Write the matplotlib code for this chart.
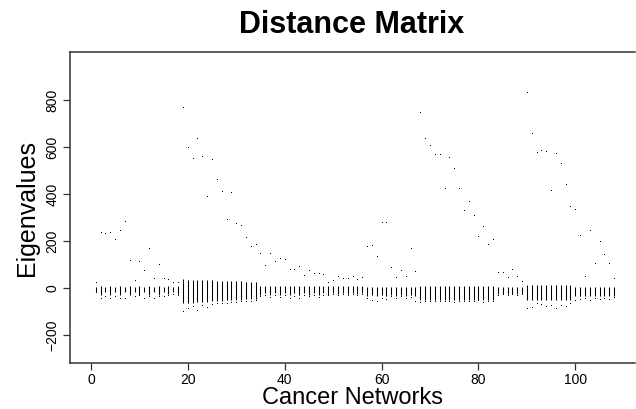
import matplotlib
matplotlib.use("Agg")
import matplotlib.pyplot as plt

# network index 1..108
networks = list(range(1, 109))

# largest eigenvalue of each network (the isolated dots above the bulk)
top_eig = [20, 233, 228, 233, 203, 241, 280, 113, 30, 109,
           71, 165, 37, 96, 37, 32, 20, 20, 765, 594,
           548, 633, 556, 387, 545, 460, 407, 288, 403, 271,
           262, 211, 173, 182, 145, 92, 145, 109, 122, 118,
           75, 75, 88, 50, 71, 58, 58, 54, 20, 28,
           45, 37, 37, 45, 32, 41, 173, 177, 131, 275,
           275, 84, 41, 71, 45, 165, 67, 743, 633, 603,
           565, 565, 420, 552, 505, 420, 326, 365, 305, 216,
           258, 182, 203, 62, 62, 41, 75, 45, 24, 828,
           654, 573, 582, 577, 411, 569, 526, 437, 345, 330,
           220, 45, 241, 101, 194, 139, 101, 37]

# upper / lower end of the dense band of eigenvalues around zero
bulk_hi = [3, 8, 3, 8, 3, 8, 3, 8, 3, 8,
           3, 8, 3, 8, 3, 8, 3, 8, 37, 36,
           35, 35, 34, 33, 32, 31, 30, 30, 29, 28,
           28, 27, 27, 26, 8, 8, 8, 8, 8, 8,
           8, 8, 8, 8, 8, 8, 8, 8, 8, 8,
           8, 8, 8, 8, 8, 8, 5, 5, 5, 5,
           5, 5, 5, 5, 5, 5, 5, 8, 8, 8,
           8, 8, 8, 8, 8, 8, 8, 8, 8, 8,
           8, 8, 8, 5, 5, 5, 5, 5, 5, 12,
           12, 12, 12, 12, 12, 12, 12, 12, 12, 5,
           5, 5, 5, 5, 5, 5, 5, 5]
bulk_lo = [-15, -28, -15, -28, -18, -28, -15, -28, -18, -28,
           -15, -28, -18, -28, -15, -25, -18, -25, -65, -62,
           -62, -60, -58, -58, -56, -55, -54, -52, -52, -50,
           -50, -48, -48, -46, -28, -22, -28, -22, -28, -22,
           -28, -22, -28, -22, -28, -22, -28, -22, -28, -22,
           -25, -20, -25, -20, -25, -20, -35, -30, -35, -30,
           -35, -30, -35, -30, -35, -30, -35, -50, -50, -50,
           -50, -50, -50, -50, -50, -50, -50, -50, -50, -50,
           -50, -50, -50, -25, -25, -25, -25, -25, -25, -52,
           -52, -52, -52, -52, -52, -52, -52, -52, -52, -35,
           -35, -35, -35, -35, -35, -35, -35, -35]

# smallest eigenvalue of each network (stray dots under the band)
low_eig = [-20, -45, -40, -45, -40, -48, -48, -30, -40, -35,
           -45, -40, -45, -38, -40, -35, -30, -32, -101, -90,
           -80, -98, -75, -85, -72, -70, -68, -66, -64, -62,
           -60, -60, -58, -56, -40, -35, -42, -35, -42, -35,
           -45, -38, -45, -35, -40, -35, -42, -35, -35, -30,
           -32, -28, -35, -30, -32, -28, -48, -55, -60, -45,
           -50, -40, -45, -40, -45, -42, -60, -62, -58, -60,
           -58, -60, -60, -58, -62, -60, -58, -60, -58, -55,
           -62, -60, -58, -35, -30, -35, -30, -35, -30, -90,
           -85, -70, -72, -80, -75, -88, -78, -80, -70, -55,
           -50, -45, -55, -48, -52, -45, -50, -42]

fig = plt.figure(figsize=(6.36, 4.09), dpi=100)
ax = fig.add_axes([70 / 636, (409 - 363) / 409, 565 / 636, 311 / 409])

ax.vlines(networks, bulk_lo, bulk_hi, color="black", lw=0.75)
ax.plot(networks, top_eig, ",", color="black")
ax.plot(networks, low_eig, ",", color="black")

ax.set_xlim(-4.32, 112.32)
ax.set_ylim(-319, 1004)
ax.set_xticks([0, 20, 40, 60, 80, 100])
ax.set_yticks([-200, 0, 200, 400, 600, 800])

font = "Liberation Sans"
for lab in ax.get_xticklabels() + ax.get_yticklabels():
    lab.set_fontfamily(font)
    lab.set_fontsize(10)
for lab in ax.get_yticklabels():
    lab.set_rotation(90)
    lab.set_va("center")

ax.tick_params(direction="out", length=5, width=0.9, pad=2.5, color="#333333")
ax.spines["right"].set_visible(False)
for s in ["left", "bottom", "top"]:
    ax.spines[s].set_color("#333333")
    ax.spines[s].set_linewidth(1.1)

ax.set_ylabel("Eigenvalues", fontsize=18, family=font, labelpad=5)
fig.text(352 / 636, 1 - 398.5 / 409, "Cancer Networks", fontsize=17,
         family=font, ha="center", va="center")
fig.text(352 / 636, 1 - 25 / 409, "Distance Matrix", fontsize=22,
         fontweight="bold", family=font, ha="center", va="center")

fig.savefig("out.png", dpi=100)
